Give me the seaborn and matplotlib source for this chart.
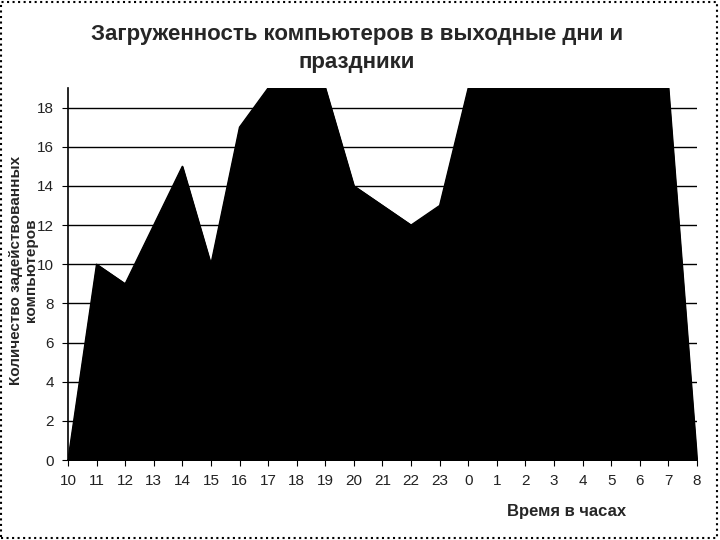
import matplotlib
matplotlib.use("Agg")
import matplotlib.pyplot as plt
import numpy as np
import pandas as pd
import seaborn as sns
from matplotlib.patches import Rectangle

# Données
hours = ["10", "11", "12", "13", "14", "15", "16", "17", "18", "19", "20", "21",
         "22", "23", "0", "1", "2", "3", "4", "5", "6", "7", "8"]
computers = [0, 10, 9, 12, 15, 10, 17, 19, 19, 19, 14, 13,
             12, 13, 19, 19, 19, 19, 19, 19, 19, 19, 0]

df = pd.DataFrame({"pos": np.arange(len(hours)), "hour": hours, "n": computers})

sns.set_style("white")
plt.rcParams["font.family"] = ["Liberation Sans Narrow", "Liberation Sans", "DejaVu Sans"]

fig = plt.figure(figsize=(7.2, 5.4), dpi=100)
ax = fig.add_axes([0.0944, 0.148, 0.8736, 0.689])

for y in range(2, 19, 2):
    ax.axhline(y, color="black", lw=1.0, zorder=0)

sns.lineplot(data=df, x="pos", y="n", color="black", lw=1, ax=ax, zorder=2)
ax.fill_between(df["pos"], df["n"], color="black", zorder=2)

ax.set_xlim(0, len(hours) - 1)
ax.set_ylim(0, 19)
ax.set_xticks(df["pos"])
ax.set_xticklabels(hours)
ax.set_yticks(range(0, 19, 2))
ax.tick_params(axis="both", labelsize=11, colors="#222222", length=4, direction="out",
               bottom=True, left=True, pad=6)
ax.tick_params(axis="both", color="black")

for s in ["top", "right"]:
    ax.spines[s].set_visible(False)
for s in ["left", "bottom"]:
    ax.spines[s].set_color("black")
    ax.spines[s].set_linewidth(1.2)

ax.set_xlabel("")
ax.set_ylabel("")
fig.text(0.496, 0.91, "Загруженность компьютеров в выходные дни и\nпраздники",
         ha="center", va="center", fontsize=16, fontweight="bold", linespacing=1.4)
fig.text(0.787, 0.052, "Время в часах", ha="center", va="center",
         fontsize=12, fontweight="bold")
fig.text(0.033, 0.5, "Количество задействованных\nкомпьютеров", ha="center", va="center",
         rotation=90, fontsize=11, fontweight="bold", linespacing=1.05)

fig.patches.append(Rectangle((0.002, 0.003), 0.994, 0.994, transform=fig.transFigure,
                             fill=False, edgecolor="black", lw=1.5, ls=":"))

fig.savefig("out.png", dpi=100)
